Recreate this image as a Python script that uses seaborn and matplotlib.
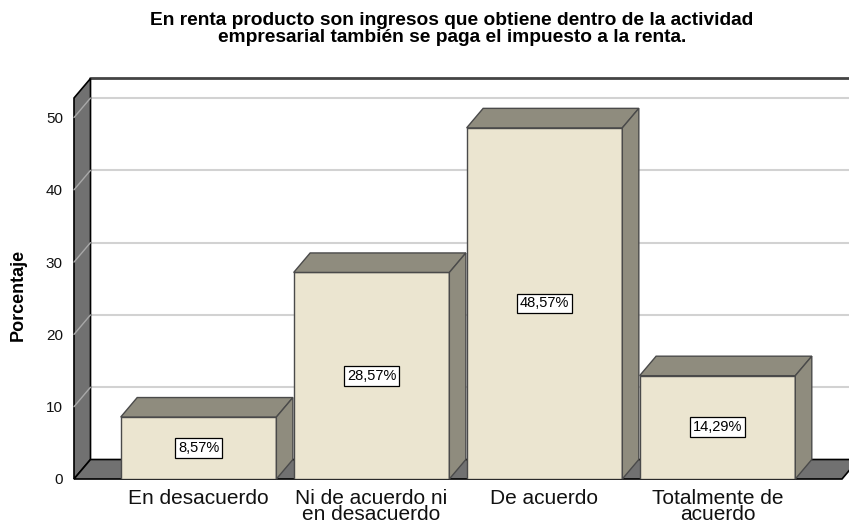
import matplotlib
matplotlib.use("Agg")

import matplotlib.pyplot as plt
import matplotlib.transforms as mtransforms
from matplotlib.patches import Polygon
from matplotlib.lines import Line2D
import seaborn as sns

# Datos del gráfico
categorias = ["En desacuerdo", "Ni de acuerdo ni\nen desacuerdo", "De acuerdo",
              "Totalmente de\nacuerdo"]
porcentajes = [8.57, 28.57, 48.57, 14.29]
etiquetas = ["8,57%", "28,57%", "48,57%", "14,29%"]
ticks_y = [0, 10, 20, 30, 40, 50]
titulo = ("En renta producto son ingresos que obtiene dentro de la actividad\n"
          "empresarial también se paga el impuesto a la renta.")

FRENTE = "#ebe5d0"
LADO = "#8f8c7e"
PARED = "#717171"
BORDE = "#4a4a4a"
DX, DY = 16.5, 19.5   # profundidad del efecto 3D (pixeles)

sns.set_style("white")
plt.rcParams["font.family"] = ["Liberation Sans", "DejaVu Sans"]
plt.rcParams["text.color"] = "black"

fig = plt.figure(figsize=(8.49, 5.26), dpi=100)
ax = fig.add_axes([74 / 849, 47 / 526, 768 / 849, 381 / 526])

sns.barplot(x=categorias, y=porcentajes, ax=ax, color=FRENTE, saturation=1,
            width=0.9, edgecolor=BORDE, linewidth=1, errorbar=None, zorder=3)
barras = list(ax.patches)

ax.set_xlim(-0.72, 3.72)
ax.set_ylim(0, 52.7)
ax.set_yticks(ticks_y)
ax.tick_params(axis="y", length=0, pad=8, labelsize=11, colors="#111111")
ax.tick_params(axis="x", length=0, pad=7, labelsize=15, colors="#111111")
for lbl in ax.get_xticklabels():
    lbl.set_linespacing(0.85)
for s in ax.spines.values():
    s.set_visible(False)
ax.set_facecolor("none")
ax.set_xlabel("")
ax.set_ylabel("")

ident = mtransforms.IdentityTransform()


def px(x, y, fondo=False):
    """Coordenadas en pixeles; fondo=True desplaza al plano trasero."""
    X, Y = ax.transData.transform((x, y))
    return (X + DX, Y + DY) if fondo else (X, Y)


def poligono(pts, **kw):
    p = Polygon(pts, closed=True, transform=ident, clip_on=False, **kw)
    ax.add_patch(p)


def linea(a, b, **kw):
    ax.add_line(Line2D([a[0], b[0]], [a[1], b[1]], transform=ident,
                       clip_on=False, **kw))


x0, x1 = ax.get_xlim()
ymax = ax.get_ylim()[1]
xfin = x1 + 0.3

# pared del fondo
poligono([px(x0, 0, True), px(xfin, 0, True), px(xfin, ymax, True),
          px(x0, ymax, True)], facecolor="white", edgecolor="none", zorder=0.5)
for t in ticks_y[1:]:
    linea(px(x0, t, True), px(xfin, t, True), color="#d2d2d2", lw=1.5, zorder=0.6)
linea(px(x0, ymax, True), px(xfin, ymax, True), color="#444444", lw=2, zorder=0.7)

# pared izquierda y piso
poligono([px(x0, 0), px(x0, ymax), px(x0, ymax, True), px(x0, 0, True)],
         facecolor=PARED, edgecolor="black", lw=1.2, zorder=1)
for t in ticks_y[1:]:
    linea(px(x0, t), px(x0, t, True), color="#a8a8a8", lw=1, zorder=1.1)
poligono([px(x0, 0), px(x1, 0), px(x1, 0, True), px(x0, 0, True)],
         facecolor=PARED, edgecolor="black", lw=1.2, zorder=1)

# caras superior y lateral de cada barra
for p in barras:
    bx0, bx1, h = p.get_x(), p.get_x() + p.get_width(), p.get_height()
    poligono([px(bx0, h), px(bx1, h), px(bx1, h, True), px(bx0, h, True)],
             facecolor=LADO, edgecolor=BORDE, lw=1, zorder=3)
    poligono([px(bx1, 0), px(bx1, h), px(bx1, h, True), px(bx1, 0, True)],
             facecolor=LADO, edgecolor=BORDE, lw=1, zorder=3)

for i, (v, et) in enumerate(zip(porcentajes, etiquetas)):
    ax.text(i, v / 2, et, ha="center", va="center", fontsize=10.5, zorder=5,
            bbox=dict(boxstyle="square,pad=0.2", fc="white", ec="black", lw=0.9))

fig.text(452 / 849, 1 - 29 / 526, titulo, ha="center", va="center",
         fontsize=13.8, fontweight="bold", linespacing=1.05)
fig.text(18 / 849, 1 - 295 / 526, "Porcentaje", rotation=90, ha="center",
         va="center", fontsize=13, fontweight="bold")

fig.savefig("out.png", dpi=100)
plt.close(fig)
